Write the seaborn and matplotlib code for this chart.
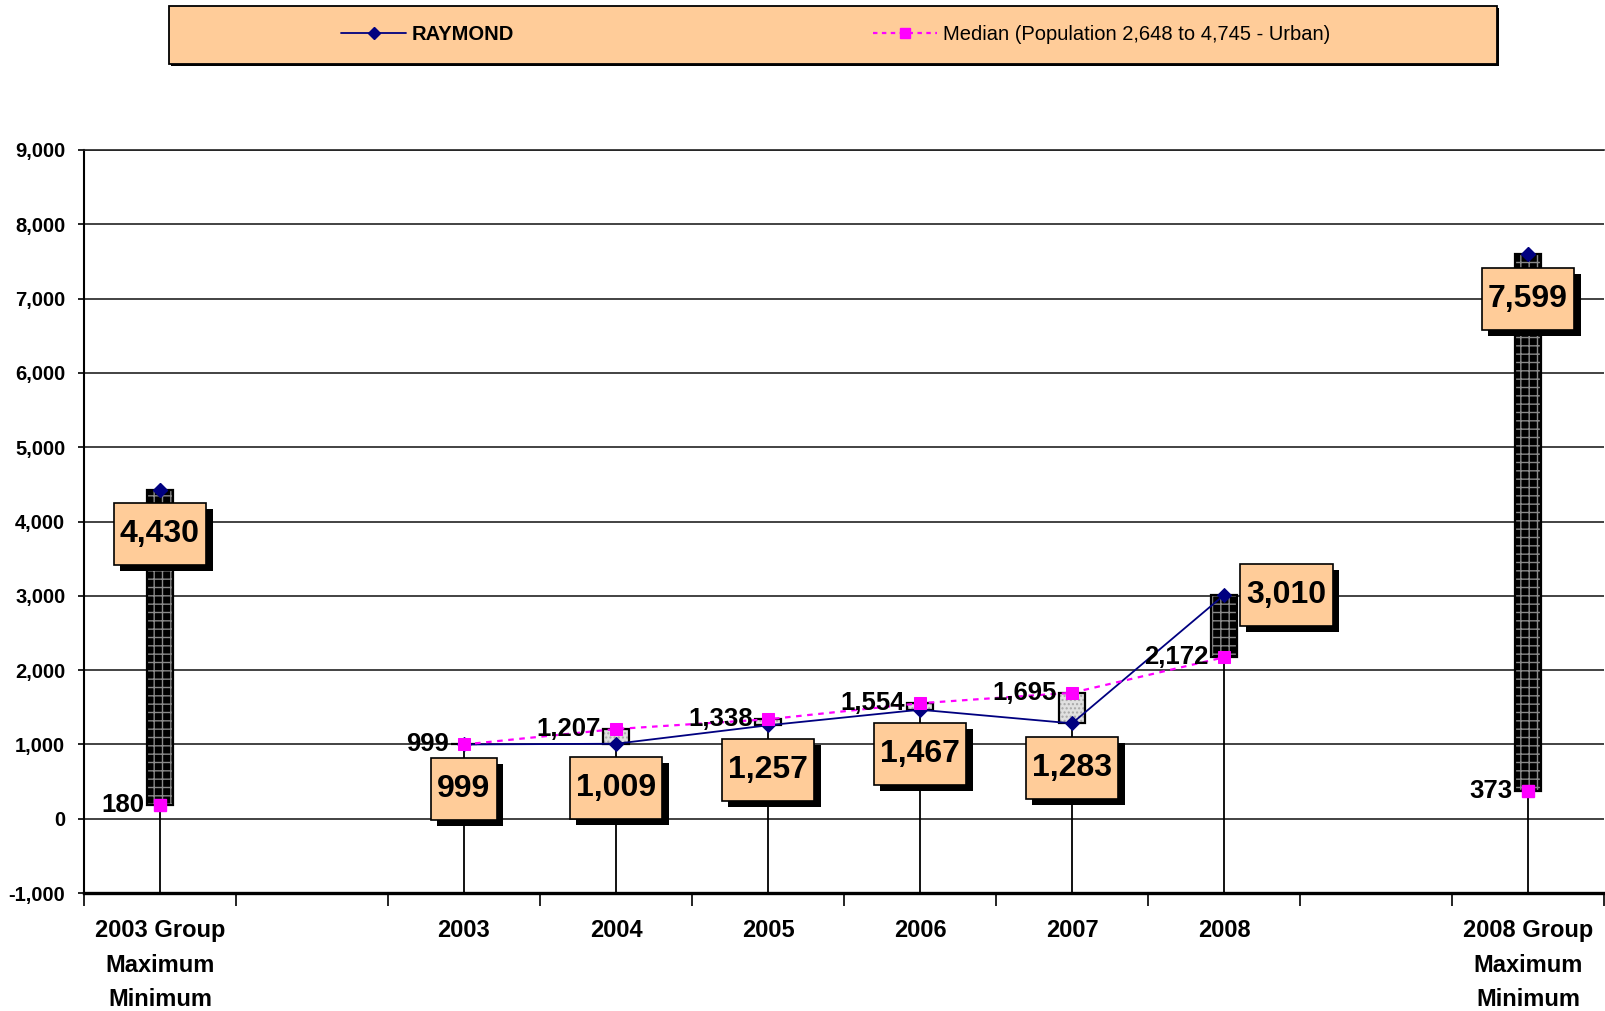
import numpy as np
import pandas as pd
import seaborn as sns
import matplotlib.pyplot as plt
import matplotlib.patheffects as pe
from matplotlib.lines import Line2D
from matplotlib.patches import Rectangle

sns.set_style("white")
plt.rcParams['font.family'] = ['Liberation Sans', 'DejaVu Sans']
plt.rcParams['text.color'] = 'black'
plt.rcParams['xtick.color'] = 'black'
plt.rcParams['ytick.color'] = 'black'

# category slots along the x axis (blank slots are gaps)
categories = ["2003 Group\nMaximum\nMinimum", "", "2003", "2004", "2005", "2006",
              "2007", "2008", "", "2008 Group\nMaximum\nMinimum"]
years = ["2003", "2004", "2005", "2006", "2007", "2008"]
raymond = [999, 1009, 1257, 1467, 1283, 3010]
median = [999, 1207, 1338, 1554, 1695, 2172]
group_labels = ["2003 Group\nMaximum\nMinimum", "2008 Group\nMaximum\nMinimum"]
group_max = [4430, 7599]
group_min = [180, 373]
yticks = list(range(-1000, 9001, 1000))

NAVY = "#000080"
PINK = "#FF00FF"
PEACH = "#FFCC99"

pos = {c: i for i, c in enumerate(categories) if c}
year_x = [pos[y] for y in years]
group_x = [pos[g] for g in group_labels]
all_x = year_x + group_x
all_hi = raymond + group_max
all_lo = median + group_min

fig = plt.figure(figsize=(16.05, 10.11), dpi=100)
ax = fig.add_axes([84 / 1605, 1 - 893 / 1011, (1604 - 84) / 1605, (893 - 150) / 1011])

ax.set_axisbelow(True)
ax.yaxis.grid(True, color="#222222", lw=1.2)

# drop lines
ax.vlines(all_x, -1000, np.maximum(all_hi, all_lo), color="black", lw=1.3, zorder=2)

# up / down bars
for x, a, b in zip(all_x, all_hi, all_lo):
    lo, hi = min(a, b), max(a, b)
    if a >= b:
        ax.bar(x, hi - lo, bottom=lo, width=0.17, facecolor="black",
               edgecolor="#8a8a8a", hatch="++", lw=0, zorder=3)
    else:
        ax.bar(x, hi - lo, bottom=lo, width=0.17, facecolor="#e0e0e0",
               edgecolor="#a8a8a8", hatch="....", lw=0, zorder=3)
    ax.bar(x, hi - lo, bottom=lo, width=0.17, fill=False, edgecolor="black",
           lw=1.6, zorder=3.5)

df = pd.DataFrame({"x": year_x, "RAYMOND": raymond, "Median": median})
sns.lineplot(data=df, x="x", y="RAYMOND", ax=ax, color=NAVY, lw=1.3, marker="D",
             markersize=7, markeredgecolor=NAVY, zorder=4)
sns.lineplot(data=df, x="x", y="Median", ax=ax, color=PINK, lw=1.6,
             linestyle=(0, (2.5, 2.5)), marker="s", markersize=8,
             markeredgecolor=PINK, zorder=4.5)
ax.plot(group_x, group_max, ls="none", marker="D", color=NAVY, markersize=7, zorder=5)
ax.plot(group_x, group_min, ls="none", marker="s", color=PINK, markersize=8, zorder=5)

# value boxes
for x, v in zip(all_x, all_hi):
    off = (45, 0) if x == pos["2008"] else (0, -32)
    t = ax.annotate(f"{v:,}", (x, v), xytext=off, textcoords="offset points",
                    ha="center", va="center", fontsize=23, fontweight="bold",
                    zorder=6,
                    bbox=dict(boxstyle="square,pad=0.2", fc=PEACH, ec="black", lw=1.2,
                              mutation_aspect=2.5))
    t.get_bbox_patch().set_path_effects([
        pe.SimplePatchShadow(offset=(4.5, -4.5), shadow_rgbFace="black", alpha=1.0),
        pe.Normal()])

# median labels
for x, v in zip(all_x, all_lo):
    ax.annotate(f"{v:,}", (x, v), xytext=(-11, 0), textcoords="offset points",
                ha="right", va="center", fontsize=18.5, fontweight="bold", zorder=6)

ax.set_xlim(-0.5, 9.5)
ax.set_xticks(range(len(categories)))
ax.set_xticklabels(categories, fontsize=17, fontweight="bold", linespacing=1.62)
ax.set_xticks(np.arange(-0.5, 10, 1), minor=True)
ax.tick_params(axis="x", which="major", length=0, pad=19, bottom=True)
ax.tick_params(axis="x", which="minor", length=9, width=1.2, color="black",
               direction="out", bottom=True)

ax.set_ylim(-1000, 9000)
ax.set_yticks(yticks)
ax.set_yticklabels([f"{v:,}" for v in yticks], fontsize=14.5, fontweight="bold")
ax.tick_params(axis="y", length=4.5, width=1.2, color="black", direction="out",
               left=True, pad=9)
ax.set_xlabel("")
ax.set_ylabel("")

ax.spines["right"].set_visible(False)
ax.spines["top"].set_color("#222222")
ax.spines["top"].set_linewidth(1.2)
ax.spines["left"].set_color("black")
ax.spines["left"].set_linewidth(1.5)
ax.spines["bottom"].set_color("black")
ax.spines["bottom"].set_linewidth(2.4)

# legend box
box = Rectangle((169 / 1605, 1 - 64 / 1011), (1497 - 169) / 1605, 58 / 1011,
                transform=fig.transFigure, facecolor=PEACH, edgecolor="black", lw=1.3)
box.set_path_effects([pe.SimplePatchShadow(offset=(1.5, -1.5), shadow_rgbFace="black",
                                           alpha=1.0), pe.Normal()])
fig.patches.append(box)
handles = [Line2D([], [], color=NAVY, marker="D", markersize=6, lw=1.3),
           Line2D([], [], color=PINK, marker="s", markersize=7, lw=1.6,
                  linestyle=(0, (2, 2)))]
leg = fig.legend(handles, ["RAYMOND", "Median (Population 2,648 to 4,745 - Urban)"],
                 loc="center", bbox_to_anchor=(836 / 1605, 1 - 35 / 1011), ncol=2,
                 frameon=False, fontsize=14.5, handlelength=3.2, handletextpad=0.3,
                 columnspacing=17.8)
leg.get_texts()[0].set_fontweight("bold")

fig.savefig("out.png", dpi=100)
